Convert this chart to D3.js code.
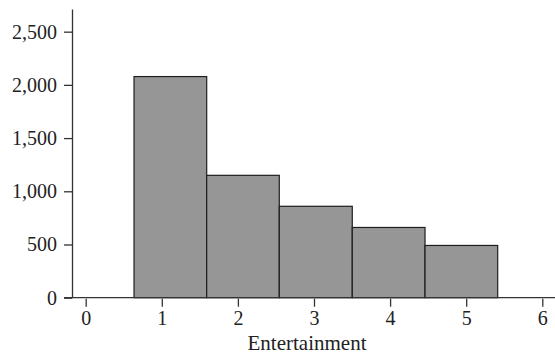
<!DOCTYPE html>
<html>
<head>
<meta charset="utf-8">
<script src="https://cdn.jsdelivr.net/npm/d3@7"></script>
<style>
  html, body { margin: 0; padding: 0; background: #fff; }
  svg { display: block; }
  text { font-family: "Liberation Serif", "Times New Roman", serif; fill: #222; }
</style>
</head>
<body>
<svg id="chart" width="555" height="356"></svg>
<script>
// Histogram of the "Entertainment" variable: bin edges and frequencies
const binEdges = [0.635, 1.590, 2.544, 3.503, 4.459, 5.414];
const frequencies = [2078, 1150, 859, 660, 491];
const xTickValues = [0, 1, 2, 3, 4, 5, 6];
const yTickValues = [0, 500, 1000, 1500, 2000, 2500];
const xTitle = "Entertainment";

const bins = frequencies.map((f, i) => ({ x0: binEdges[i], x1: binEdges[i + 1], count: f }));

const svg = d3.select("#chart");
const plotLeft = 72, plotRight = 555, plotBottom = 297.7, plotTop = 9;

const x = d3.scaleLinear().domain([-0.18, 6.167]).range([plotLeft, plotRight]);
const y = d3.scaleLinear().domain([0, 2713]).range([plotBottom, plotTop]);

// Bars
svg.append("g")
  .selectAll("rect")
  .data(bins)
  .join("rect")
  .attr("x", d => x(d.x0))
  .attr("y", d => y(d.count))
  .attr("width", d => x(d.x1) - x(d.x0))
  .attr("height", d => y(0) - y(d.count))
  .attr("fill", "#969696")
  .attr("stroke", "#1e1e1e")
  .attr("stroke-width", 1.2);

// Y axis
const yAxis = svg.append("g")
  .attr("transform", `translate(${plotLeft},0)`)
  .call(d3.axisLeft(y).tickValues(yTickValues).tickFormat(d3.format(",")).tickSize(8).tickPadding(7).tickSizeOuter(0));
yAxis.select(".domain").attr("stroke", "#333").attr("stroke-width", 1.3);
yAxis.selectAll(".tick line").attr("stroke", "#333").attr("stroke-width", 1.3);
yAxis.selectAll(".tick text").attr("font-size", 20).attr("font-family", "Liberation Serif").attr("fill", "#222");

// X axis line
svg.append("line")
  .attr("x1", plotLeft - 8).attr("x2", plotRight)
  .attr("y1", plotBottom).attr("y2", plotBottom)
  .attr("stroke", "#333").attr("stroke-width", 1.3);

// X axis ticks, drawn just below the baseline
const xAxis = svg.append("g")
  .attr("transform", `translate(0,${plotBottom + 1})`)
  .call(d3.axisBottom(x).tickValues(xTickValues).tickFormat(d3.format("d")).tickSize(8).tickPadding(4).tickSizeOuter(0));
xAxis.select(".domain").remove();
xAxis.selectAll(".tick line").attr("stroke", "#333").attr("stroke-width", 1.3);
xAxis.selectAll(".tick text").attr("font-size", 20).attr("font-family", "Liberation Serif").attr("fill", "#222");

// X axis title
svg.append("text")
  .attr("x", 307)
  .attr("y", 350)
  .attr("text-anchor", "middle")
  .attr("font-size", 21)
  .text(xTitle);
</script>
</body>
</html>
